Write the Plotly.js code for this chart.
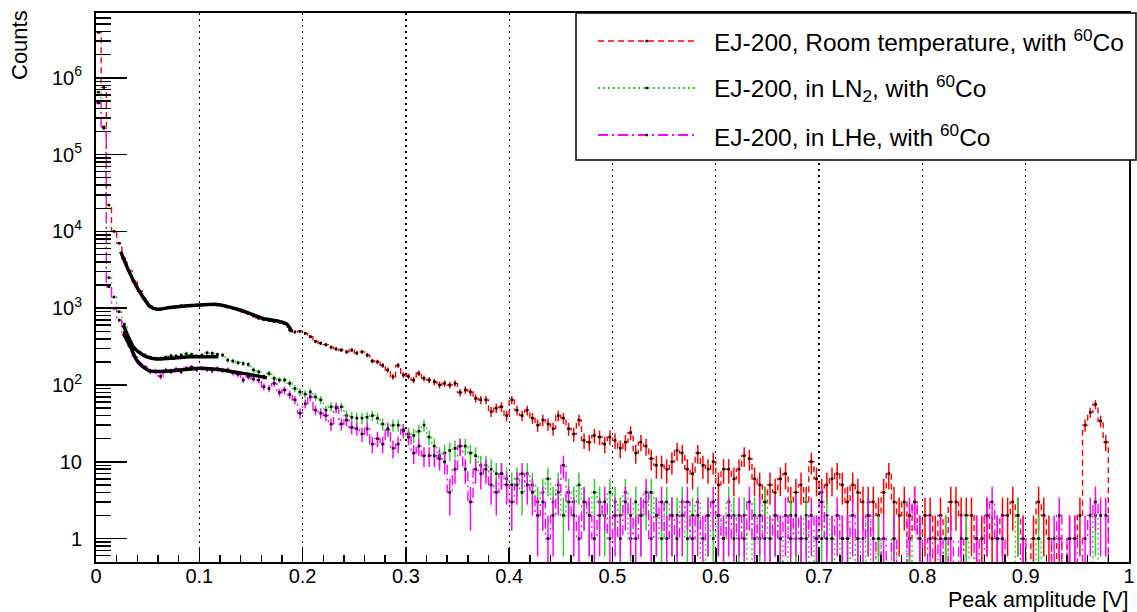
<!DOCTYPE html>
<html><head><meta charset="utf-8">
<script src="https://cdn.plot.ly/plotly-3.0.1.min.js"></script>
<style>html,body{margin:0;padding:0;background:#fff}#plot{width:1137px;height:612px}</style>
</head><body><div id="plot"></div>
<script>
// ---------------- data ----------------
const binWidth = 0.005; // V per bin, 200 bins from 0 to 1 V

const roomTempCounts = [
 3900000, 750000, 22000, 10000, 7000, 4400, 3050, 2190, 1660, 1320,
 1060, 985, 975, 1000, 1030, 1050, 1080, 1090, 1095, 1100,
 1110, 1125, 1115, 1105, 1080, 1040, 1000, 950, 900, 850,
 790, 740, 710, 690, 670, 660, 630, 520, 490, 500,
 470, 425, 370, 350, 335, 310, 295, 285, 270, 285,
 260, 270, 245, 205, 200, 180, 157, 128, 180, 135,
 130, 116, 142, 122, 116, 110, 100, 105, 100, 105,
 80, 86, 81, 67, 64, 64, 45, 50, 52, 40,
 64, 47, 40, 47, 37, 30, 35, 31, 27, 40,
 37, 27, 23, 35, 19, 18, 22, 21, 17, 21,
 19, 15, 18, 24, 13, 18, 16, 11, 9, 9,
 8, 10, 14, 13, 8, 7, 13, 9, 8, 10,
 5, 8, 8, 6, 8, 12, 11, 6, 5, 3,
 5, 4, 6, 7, 3, 4, 5, 3, 10, 6,
 4, 5, 6, 7, 5, 3, 5, 4, 3, 3,
 3, 2, 4, 7, 3, 2, 3, 1, 3, 1,
 2, 2, 1, 2, 1, 3, 3, 2, 2, 2,
 1, 1, 2, 1, 1, 2, 2, 3, 2, 1,
 0, 1, 3, 2, 1, 0, 1, 0, 1, 1,
 2, 30, 44, 56, 34, 18, 0, 0, 0, 0
];

const ln2Counts = [
 650000, 230000, 2500, 1400, 900, 620, 400, 295, 265, 245,
 228, 220, 222, 230, 240, 238, 245, 255, 250, 238,
 245, 262, 258, 250, 245, 211, 205, 195, 190, 185,
 157, 148, 128, 141, 122, 116, 116, 105, 90, 81,
 76, 81, 70, 64, 47, 52, 52, 52, 40, 38,
 37, 37, 38, 40, 37, 31, 26, 30, 30, 25,
 23, 22, 25, 30, 21, 16, 12, 13, 14, 15,
 16, 16, 13, 12, 9, 9, 8, 7, 7, 6,
 5, 6, 4, 7, 5, 3, 4, 6, 3, 5,
 2, 4, 3, 5, 3, 2, 4, 3, 2, 4,
 3, 2, 4, 1, 3, 2, 3, 4, 2, 1,
 3, 2, 2, 3, 1, 2, 3, 0, 2, 1,
 2, 1, 3, 2, 1, 2, 0, 2, 1, 3,
 1, 2, 1, 0, 2, 1, 1, 2, 0, 1,
 1, 2, 1, 0, 1, 1, 0, 1, 0, 2,
 0, 1, 0, 0, 1, 0, 0, 1, 0, 0,
 0, 0, 0, 0, 1, 0, 0, 0, 1, 0,
 0, 0, 0, 0, 0, 0, 0, 0, 2, 0,
 0, 0, 1, 0, 0, 0, 0, 0, 0, 0,
 0, 0, 0, 2, 0, 0, 0, 0, 0, 0
];

const lheCounts = [
 470000, 220000, 1900, 1000, 700, 480, 324, 231, 190, 170,
 150, 150, 130, 155, 150, 160, 150, 165, 170, 160,
 165, 160, 155, 162, 155, 157, 145, 138, 116, 128,
 120, 116, 95, 90, 105, 80, 86, 75, 64, 43,
 57, 70, 47, 43, 40, 31, 50, 31, 35, 28,
 27, 23, 27, 17, 20, 17, 27, 15, 17, 26,
 21, 13, 16, 12, 12, 12, 11, 10, 4, 8,
 16, 8, 3, 8, 7, 8, 5, 4, 7, 5,
 3, 5, 7, 5, 4, 2, 3, 1, 2, 4,
 9, 3, 2, 1, 3, 2, 1, 2, 3, 1,
 2, 1, 3, 2, 1, 2, 4, 1, 2, 3,
 1, 2, 1, 2, 3, 1, 2, 1, 2, 3,
 2, 1, 2, 1, 2, 1, 3, 1, 2, 1,
 1, 2, 1, 2, 1, 2, 1, 1, 2, 1,
 3, 1, 1, 2, 1, 1, 2, 1, 1, 2,
 1, 0, 1, 0, 1, 0, 0, 2, 3, 1,
 0, 1, 0, 1, 0, 1, 0, 1, 0, 0,
 1, 0, 2, 3, 1, 1, 0, 0, 0, 1,
 0, 0, 0, 0, 0, 1, 2, 0, 1, 1,
 0, 1, 2, 3, 2, 2, 0, 0, 0, 0
];

// fitted curves (black)
const roomFitX = [0.024, 0.031, 0.0394, 0.0455, 0.0523, 0.0588, 0.0717, 0.1008, 0.117, 0.1395, 0.1618, 0.1783, 0.1848, 0.1896];
const roomFitY = [5460, 3200, 1900, 1400, 1050, 968, 1020, 1100, 1120, 948, 738, 667, 622, 494];
const ln2FitX = [0.0265, 0.031, 0.0361, 0.0426, 0.0491, 0.0588, 0.0766, 0.0911, 0.1185];
const ln2FitY = [604, 430, 315, 260, 233, 218, 225, 233, 233];
const lheFitX = [0.0265, 0.033, 0.0394, 0.0455, 0.0523, 0.062, 0.0749, 0.1008, 0.1234, 0.146, 0.1654];
const lheFitY = [471, 320, 211, 172, 153, 150, 153, 165, 156, 139, 124];

const yTickVals = [1, 10, 100, 1000, 10000, 100000, 1000000];
const yTickText = ['1', '10', '10<sup>2</sup>', '10<sup>3</sup>', '10<sup>4</sup>', '10<sup>5</sup>', '10<sup>6</sup>'];
const legendLabels = [
  'EJ-200, Room temperature, with <sup>60</sup>Co',
  'EJ-200, in LN<sub>2</sub>, with <sup>60</sup>Co',
  'EJ-200, in LHe, with <sup>60</sup>Co'
];
const seriesNames = ['Room temperature', 'LN2', 'LHe'];
const xTitle = 'Peak amplitude [V]';
const yTitle = 'Counts';

// ---------------- styling / construction ----------------
const FONT = 'Liberation Sans, Arial, Helvetica, sans-serif';
const colors = ['#ff0000', '#33cc33', '#ff00ff'];
const dashes = ['6px,4px', '2px,3px', '10px,4px,2px,4px'];

function histTraces(counts, color, dash, name) {
  const n = counts.length;
  const below = 1e-3; // empty bins: drawn below the axis (log scale)
  const disp = counts.map(c => (c > 0 ? c : below));
  const edges = counts.map((_, k) => k * binWidth).concat([n * binWidth]);
  const centers = counts.map((_, k) => (k + 0.5) * binWidth);
  return [
    { x: edges, y: disp.concat([disp[n - 1]]), type: 'scatter', mode: 'lines', name: name,
      line: { shape: 'hv', color: color, dash: dash, width: 1.4 }, hoverinfo: 'skip', showlegend: false },
    { x: centers, y: disp, type: 'scatter', mode: 'markers', name: name, showlegend: false,
      marker: { color: '#000', size: 2.6, symbol: 'square' },
      error_y: { type: 'data', array: counts.map(c => Math.sqrt(c)), color: color, thickness: 1.5, width: 0, visible: true } }
  ];
}
function fitTrace(x, y) {
  return { x: x, y: y, type: 'scatter', mode: 'lines', showlegend: false,
    line: { color: '#000', width: 3.5, shape: 'spline', smoothing: 0.8 }, hoverinfo: 'skip' };
}

const traces = []
  .concat(histTraces(roomTempCounts, colors[0], dashes[0], seriesNames[0]))
  .concat(histTraces(ln2Counts, colors[1], dashes[1], seriesNames[1]))
  .concat(histTraces(lheCounts, colors[2], dashes[2], seriesNames[2]))
  .concat([fitTrace(roomFitX, roomFitY), fitTrace(ln2FitX, ln2FitY), fitTrace(lheFitX, lheFitY)]);

// minor tick positions for log axis (2..9 x 10^n)
const minorY = [];
for (let e = -1; e <= 6; e++) for (let m = 2; m <= 9; m++) {
  const v = m * Math.pow(10, e);
  if (v > 0.495 && v < 6.9e6) minorY.push(v);
}

// pixel -> paper helpers (plot area: x 96..1129, y 13..562)
const PL = 96, PR = 1129, PT = 13, PB = 562;
const px = x => (x - PL) / (PR - PL);
const py = y => (PB - y) / (PB - PT);

const legendRows = [41, 88, 135];
const shapes = [
  { type: 'rect', xref: 'paper', yref: 'paper', x0: px(576), x1: px(1136), y0: py(160), y1: py(13),
    fillcolor: '#fff', line: { color: '#000', width: 1.5 }, layer: 'above' }
];
const annotations = [
  { text: yTitle, xref: 'paper', yref: 'paper', x: px(20), y: py(8), xanchor: 'center', yanchor: 'top',
    textangle: -90, showarrow: false, font: { family: FONT, size: 22, color: '#000' } },
  { text: xTitle, xref: 'paper', yref: 'paper', x: px(1130), y: py(599.5), xanchor: 'right', yanchor: 'middle',
    showarrow: false, font: { family: FONT, size: 21.5, color: '#000' } }
];
legendRows.forEach((ry, i) => {
  shapes.push({ type: 'line', xref: 'paper', yref: 'paper', x0: px(598), x1: px(695), y0: py(ry), y1: py(ry),
    line: { color: colors[i], width: i === 0 ? 1.5 : 2, dash: dashes[i] }, layer: 'above' });
  shapes.push({ type: 'rect', xref: 'paper', yref: 'paper', x0: px(645.5), x1: px(648), y0: py(ry + 1.2), y1: py(ry - 1.2),
    fillcolor: '#000', line: { width: 0 }, layer: 'above' });
  annotations.push({ text: legendLabels[i], xref: 'paper', yref: 'paper', x: px(712), y: py(ry), xanchor: 'left', yanchor: 'middle',
    showarrow: false, font: { family: FONT, size: 24.5, color: '#000' } });
});

const layout = {
  width: 1137, height: 612,
  margin: { l: PL, r: 1137 - PR, t: PT, b: 612 - PB, pad: 0 },
  paper_bgcolor: '#fff', plot_bgcolor: '#fff',
  showlegend: false,
  font: { family: FONT, color: '#000', size: 20 },
  xaxis: {
    range: [0, 1], tickmode: 'linear', tick0: 0, dtick: 0.1,
    ticks: 'inside', ticklen: 14, tickwidth: 1.5, tickcolor: '#000',
    minor: { dtick: 0.02, tick0: 0, ticks: 'inside', ticklen: 7, tickwidth: 1.5, tickcolor: '#000', showgrid: false },
    showgrid: true, gridcolor: '#000', griddash: '2px,4px', gridwidth: 1.3,
    showline: true, linecolor: '#000', linewidth: 2, mirror: true, zeroline: false,
    tickfont: { family: FONT, size: 20, color: '#000' }, ticklabelstandoff: -5
  },
  yaxis: {
    type: 'log', range: [-0.305, 6.844],
    tickmode: 'array', tickvals: yTickVals, ticktext: yTickText,
    ticks: 'inside', ticklen: 31, tickwidth: 1.5, tickcolor: '#000',
    minor: { tickmode: 'array', tickvals: minorY, ticks: 'inside', ticklen: 15, tickwidth: 1.5, tickcolor: '#000', showgrid: false },
    showgrid: false, showline: true, linecolor: '#000', linewidth: 2, mirror: true, zeroline: false,
    tickfont: { family: FONT, size: 20, color: '#000' }, ticklabelstandoff: 8
  },
  shapes: shapes,
  annotations: annotations
};

Plotly.newPlot('plot', traces, layout, { staticPlot: true, displayModeBar: false });
</script>
</body></html>
